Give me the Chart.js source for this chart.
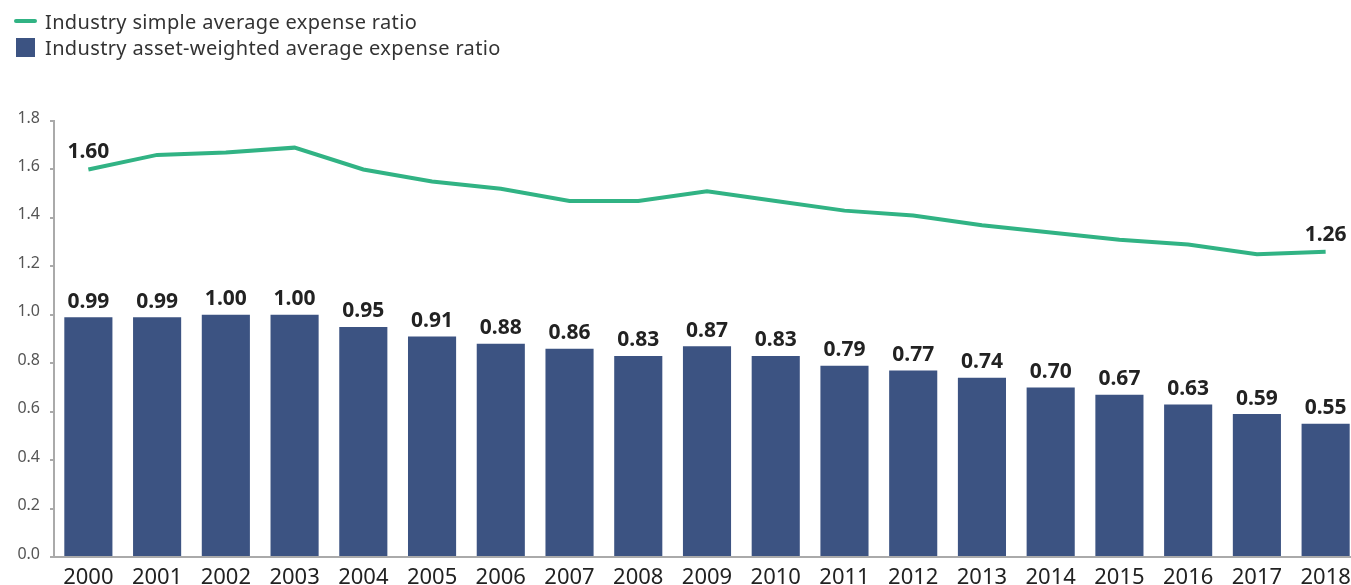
<!DOCTYPE html>
<html>
<head>
<meta charset="utf-8">
<script src="https://cdn.jsdelivr.net/npm/chart.js@4.4.1/dist/chart.umd.min.js"></script>
<style>
    html, body { margin: 0; padding: 0; background: #fff; overflow: hidden; }
    #wrap { position: relative; width: 1360px; height: 585px; }
    #legend { position: absolute; left: 14px; top: 8px; font-family: "Noto Sans", sans-serif; font-size: 20px; color: #333; letter-spacing: 0.35px; }
    .item { height: 26px; display: flex; align-items: center; }
    .swatch-line { width: 23px; height: 4px; border-radius: 2px; margin-right: 8px; }
    .swatch-box { width: 19px; height: 19px; margin: 0 10px 0 2px; }
</style>
</head>
<body>
<div id="wrap">
    <canvas id="chartER" width="1360" height="585"></canvas>
    <div id="legend"></div>
</div>
<script>
const years = ['2000', '2001', '2002', '2003', '2004', '2005', '2006', '2007', '2008', '2009',
               '2010', '2011', '2012', '2013', '2014', '2015', '2016', '2017', '2018'];
const simpleAvg = [1.60, 1.66, 1.67, 1.69, 1.60, 1.55, 1.52, 1.47, 1.47, 1.51,
                   1.47, 1.43, 1.41, 1.37, 1.34, 1.31, 1.29, 1.25, 1.26];
const assetWeighted = [0.99, 0.99, 1.00, 1.00, 0.95, 0.91, 0.88, 0.86, 0.83, 0.87,
                       0.83, 0.79, 0.77, 0.74, 0.70, 0.67, 0.63, 0.59, 0.55];
const yTicks = [0, 0.2, 0.4, 0.6, 0.8, 1.0, 1.2, 1.4, 1.6, 1.8];

const greenColor = '#31b384';
const blueColor = '#3c5382';

// value labels above the bars and at the ends of the line
const valueLabels = {
    id: 'valueLabels',
    afterDatasetsDraw(chart) {
        const ctx = chart.ctx;
        ctx.save();
        ctx.font = 'bold 21px "Noto Sans"';
        ctx.fillStyle = '#222';
        ctx.textAlign = 'center';
        ctx.textBaseline = 'bottom';
        chart.getDatasetMeta(1).data.forEach((bar, i) => {
            ctx.fillText(assetWeighted[i].toFixed(2), bar.x, bar.y - 5);
        });
        const lineMeta = chart.getDatasetMeta(0);
        ctx.textBaseline = 'middle';
        [0, years.length - 1].forEach(i => {
            const p = lineMeta.data[i];
            ctx.fillText(simpleAvg[i].toFixed(2), p.x, p.y - 17);
        });
        ctx.restore();
    }
};

const ctxER = document.getElementById('chartER').getContext('2d');

const chartER = new Chart(ctxER, {
    type: 'bar',
    data: {
        labels: years,
        datasets: [
            {
                type: 'line',
                label: 'Industry simple average expense ratio',
                data: simpleAvg,
                borderColor: greenColor,
                backgroundColor: greenColor,
                borderWidth: 4,
                tension: 0,
                pointRadius: 0,
                fill: false
            },
            {
                label: 'Industry asset-weighted average expense ratio',
                data: assetWeighted,
                backgroundColor: blueColor,
                barPercentage: 0.7,
                categoryPercentage: 1.0
            }
        ]
    },
    options: {
        animation: false,
        responsive: false,
        layout: { padding: { top: 121, left: 0, right: 0, bottom: 0 } },
        plugins: { legend: { display: false }, tooltip: { enabled: false } },
        scales: {
            x: {
                grid: { display: false },
                border: { display: true, color: '#aaa', width: 2 },
                ticks: { color: '#222', font: { family: 'Noto Sans', size: 22 }, padding: 0, maxRotation: 0 },
                afterFit(scale) { scale.height = 28; }
            },
            y: {
                min: 0,
                max: 1.8,
                afterBuildTicks(scale) { scale.ticks = yTicks.map(v => ({ value: v })); },
                grid: { drawOnChartArea: false, drawTicks: true, tickLength: 4, color: '#aaa', lineWidth: 2 },
                border: { display: true, color: '#aaa', width: 2 },
                ticks: {
                    color: '#555',
                    font: { family: 'Noto Sans', size: 16 },
                    padding: 10,
                    labelOffset: -3,
                    callback: v => v.toFixed(1)
                },
                afterFit(scale) { scale.width = 54; }
            }
        }
    },
    plugins: [valueLabels]
});

// legend built from the datasets
const legend = document.getElementById('legend');
chartER.data.datasets.forEach(ds => {
    const item = document.createElement('div');
    item.className = 'item';
    const sw = document.createElement('span');
    sw.className = ds.type === 'line' ? 'swatch-line' : 'swatch-box';
    sw.style.background = ds.type === 'line' ? ds.borderColor : ds.backgroundColor;
    item.appendChild(sw);
    item.appendChild(document.createTextNode(ds.label));
    legend.appendChild(item);
});
</script>
</body>
</html>
